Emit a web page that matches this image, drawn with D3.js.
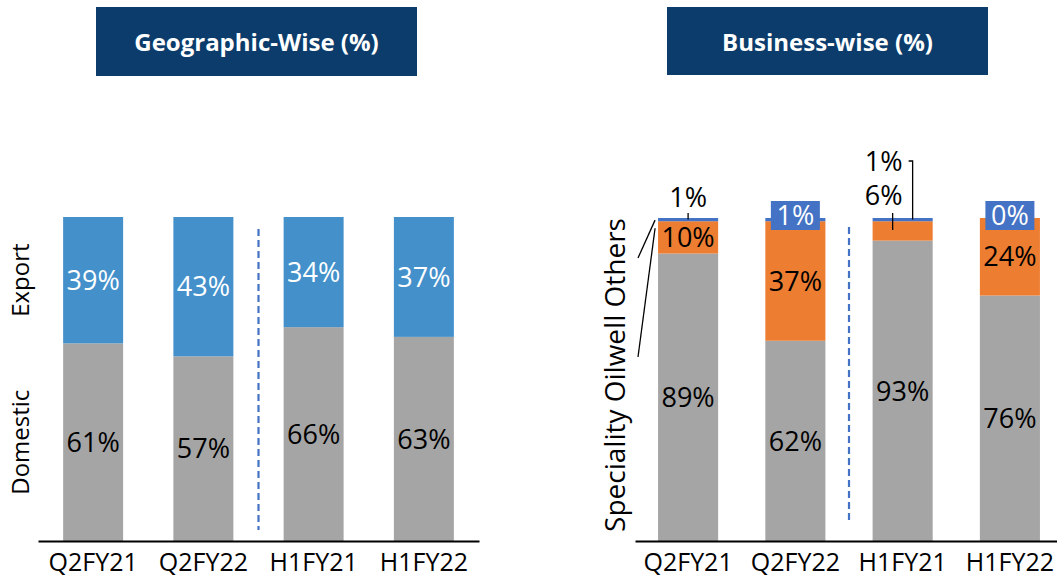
<!DOCTYPE html>
<html>
<head>
<meta charset="utf-8">
<script src="https://cdn.jsdelivr.net/npm/d3@7"></script>
<style>
  html, body { margin: 0; padding: 0; background: #fff; }
  svg { display: block; }
  text { font-family: "Open Sans", sans-serif; }
</style>
</head>
<body>
<svg id="chart" width="1057" height="579"></svg>
<script>
// ---- Data ----
const categories = ["Q2FY21", "Q2FY22", "H1FY21", "H1FY22"];
const geoDomestic = [61, 57, 66, 63];
const geoExport = [39, 43, 34, 37];
const bizSpeciality = [89, 62, 93, 76];
const bizOilwell = [10, 37, 6, 24];
const bizOthers = [1, 1, 1, 0];
const titles = ["Geographic-Wise (%)", "Business-wise (%)"];
const geoSeriesNames = ["Domestic", "Export"];
const bizSeriesNames = ["Speciality", "Oilwell", "Others"];

const colGray = "#A5A5A5", colExport = "#4390CB", colOrange = "#ED7D31", colOthers = "#4472C4";
const titleFill = "#0B3C6B";

const svg = d3.select("#chart");
const FS = 27;   // value labels
const TFS = 25;  // tick labels

// ---- Titles ----
const titleBoxes = [{x: 96, y: 7, w: 321, h: 69}, {x: 667, y: 7, w: 321, h: 68}];
titles.forEach((t, i) => {
  const b = titleBoxes[i];
  svg.append("rect").attr("x", b.x).attr("y", b.y).attr("width", b.w).attr("height", b.h).attr("fill", titleFill);
  svg.append("text").attr("x", b.x + b.w / 2).attr("y", b.y + b.h / 2 + 1).attr("dy", "0.36em")
    .attr("text-anchor", "middle").attr("fill", "#fff").attr("font-weight", 700).attr("font-size", 24)
    .text(t);
});

// ---- Left chart: Geographic ----
const xL = d3.scaleBand().domain(categories).range([38, 479]).paddingInner(0.456).paddingOuter(0.228);
const yL = d3.scaleLinear().domain([0, 100]).range([541, 217]);

const geoRows = categories.map((c, i) => ({cat: c, Domestic: geoDomestic[i], Export: geoExport[i]}));
const geoStack = d3.stack().keys(geoSeriesNames)(geoRows);
const geoColors = {Domestic: colGray, Export: colExport};
const geoText = {Domestic: "#000", Export: "#fff"};

const gL = svg.append("g");
geoStack.forEach(s => {
  gL.selectAll(null).data(s).enter().append("rect")
    .attr("x", d => xL(d.data.cat)).attr("width", xL.bandwidth())
    .attr("y", d => yL(d[1])).attr("height", d => yL(d[0]) - yL(d[1]))
    .attr("fill", geoColors[s.key]);
  gL.selectAll(null).data(s).enter().append("text")
    .attr("x", d => xL(d.data.cat) + xL.bandwidth() / 2)
    .attr("y", d => (yL(d[0]) + yL(d[1])) / 2).attr("dy", "0.36em")
    .attr("text-anchor", "middle").attr("font-size", FS).attr("fill", geoText[s.key])
    .text(d => (d[1] - d[0]) + "%");
});

// dashed separator left
const sepL = (xL("Q2FY22") + xL.bandwidth() + xL("H1FY21")) / 2;
gL.append("line").attr("x1", sepL).attr("x2", sepL).attr("y1", 229).attr("y2", 530)
  .attr("stroke", "#4472C4").attr("stroke-width", 2.2).attr("stroke-dasharray", "7,4");

// axis
const axL = gL.append("g").attr("transform", "translate(0,541)")
  .call(d3.axisBottom(xL).tickSize(0).tickSizeOuter(0).tickPadding(12));
axL.select(".domain").attr("stroke", "#000").attr("stroke-width", 2);
axL.selectAll("text").attr("font-size", TFS).attr("font-family", "Open Sans").attr("fill", "#000");

// rotated series labels (aligned to first bar segments)
geoStack.forEach(s => {
  const d = s[0];
  const cy = (yL(d[0]) + yL(d[1])) / 2;
  gL.append("text").attr("transform", `translate(29,${cy}) rotate(-90)`)
    .attr("text-anchor", "middle").attr("font-size", 24).attr("fill", "#000")
    .text(s.key);
});

// ---- Right chart: Business ----
const xR = d3.scaleBand().domain(categories).range([635, 1063]).paddingInner(0.44).paddingOuter(0.215);
const yR = d3.scaleLinear().domain([0, 100]).range([541, 218]);
const bizRows = categories.map((c, i) => ({cat: c, Speciality: bizSpeciality[i], Oilwell: bizOilwell[i], Others: bizOthers[i]}));
const bizStack = d3.stack().keys(bizSeriesNames)(bizRows);
const bizColors = {Speciality: colGray, Oilwell: colOrange, Others: colOthers};

const gR = svg.append("g");
bizStack.forEach(s => {
  gR.selectAll(null).data(s).enter().append("rect")
    .attr("x", d => xR(d.data.cat)).attr("width", xR.bandwidth())
    .attr("y", d => yR(d[1])).attr("height", d => yR(d[0]) - yR(d[1]))
    .attr("fill", bizColors[s.key]);
});
// in-segment labels: Speciality & Oilwell
bizStack.slice(0, 2).forEach(s => {
  gR.selectAll(null).data(s).enter().append("text")
    .attr("x", d => xR(d.data.cat) + xR.bandwidth() / 2 - (s.key === "Oilwell" && d.data.cat === "H1FY21" ? 19 : 0))
    .attr("y", d => {
      if (s.key === "Oilwell" && d.data.cat === "H1FY21") return yR(100) - 23;
      return (yR(d[0]) + yR(d[1])) / 2;
    })
    .attr("dy", "0.36em").attr("text-anchor", "middle").attr("font-size", FS).attr("fill", "#000")
    .text(d => (d[1] - d[0]) + "%");
});
// leader for H1FY21 oilwell
{
  const cx = xR("H1FY21") + xR.bandwidth() / 2;
  gR.append("line").attr("x1", cx - 10).attr("x2", cx - 10).attr("y1", yR(100) - 5).attr("y2", yR(100) + 12)
    .attr("stroke", "#000").attr("stroke-width", 1.3);
}
// Others labels
const others = bizStack[2];
others.forEach(d => {
  const cat = d.data.cat;
  const cx = xR(cat) + xR.bandwidth() / 2;
  const top = yR(d[1]);
  const v = (d[1] - d[0]) + "%";
  if (cat === "Q2FY21") {
    gR.append("text").attr("x", cx).attr("y", top - 21).attr("dy", "0.36em").attr("text-anchor", "middle")
      .attr("font-size", FS).attr("fill", "#000").text(v);
    gR.append("line").attr("x1", cx).attr("x2", cx).attr("y1", top - 5).attr("y2", top + 1.5)
      .attr("stroke", "#000").attr("stroke-width", 1.3);
  } else if (cat === "H1FY21") {
    const lx = cx - 19, ly = yR(100) - 57;
    gR.append("text").attr("x", lx).attr("y", ly).attr("dy", "0.36em").attr("text-anchor", "middle")
      .attr("font-size", FS).attr("fill", "#000").text(v);
    gR.append("path").attr("d", `M${lx + 25},${ly} H${cx + 10} V${top + 1.5}`)
      .attr("fill", "none").attr("stroke", "#000").attr("stroke-width", 1.3);
  } else {
    const bw = 49, bh = 29;
    gR.append("rect").attr("x", cx - bw / 2).attr("y", yR(100) - 17).attr("width", bw).attr("height", bh)
      .attr("fill", colOthers);
    gR.append("text").attr("x", cx).attr("y", yR(100) - 17 + bh / 2).attr("dy", "0.36em").attr("text-anchor", "middle")
      .attr("font-size", FS).attr("fill", "#fff").text(v);
  }
});

// dashed separator right
const sepR = (xR("Q2FY22") + xR.bandwidth() + xR("H1FY21")) / 2;
gR.append("line").attr("x1", sepR).attr("x2", sepR).attr("y1", 227).attr("y2", 523)
  .attr("stroke", "#4472C4").attr("stroke-width", 2.2).attr("stroke-dasharray", "7,4");

// axis
const axR = gR.append("g").attr("transform", "translate(0,541)")
  .call(d3.axisBottom(xR).tickSize(0).tickSizeOuter(0).tickPadding(12));
axR.select(".domain").attr("stroke", "#000").attr("stroke-width", 2);
axR.selectAll("text").attr("font-size", TFS).attr("font-family", "Open Sans").attr("fill", "#000");

// rotated legend label
gR.append("text").attr("transform", "translate(625,375) rotate(-90)")
  .attr("text-anchor", "middle").attr("font-size", 28).attr("fill", "#000")
  .text(bizSeriesNames.join(" "));
// leader lines from legend words to first bar segments
{
  const bx = xR("Q2FY21") - 3;
  const q = bizStack.map(s => s[0]);
  gR.append("line").attr("x1", 638).attr("y1", 258).attr("x2", bx).attr("y2", (yR(q[2][0]) + yR(q[2][1])) / 2 + 0.5)
    .attr("stroke", "#000").attr("stroke-width", 1.3);
  gR.append("line").attr("x1", 638).attr("y1", 357).attr("x2", bx).attr("y2", yR(q[1][1]) + 7)
    .attr("stroke", "#000").attr("stroke-width", 1.3);
}
</script>
</body>
</html>
